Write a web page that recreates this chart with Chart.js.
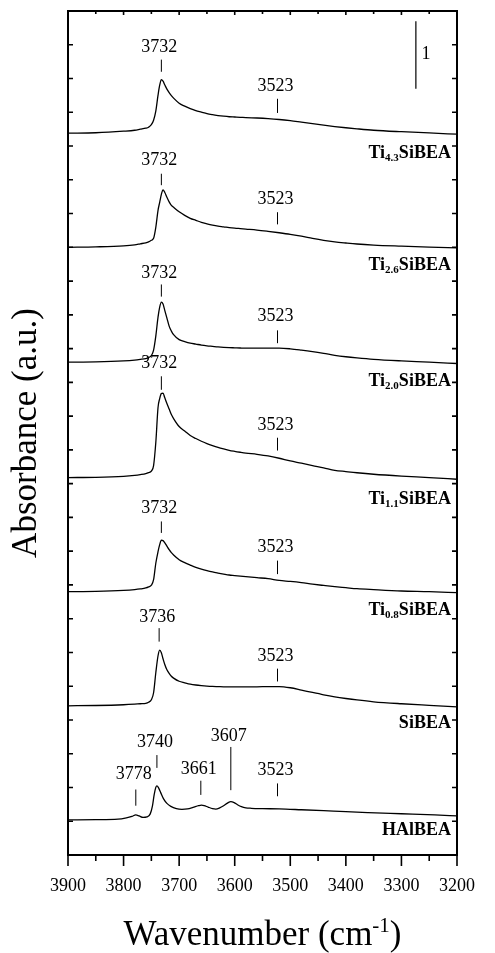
<!DOCTYPE html>
<html lang="en">
<head>
<meta charset="UTF-8">
<title>IR spectra</title>
<script src="https://cdn.jsdelivr.net/npm/chart.js"></script>
<style>
  html, body { margin: 0; padding: 0; background: #fff; }
</style>
</head>
<body>
<canvas id="myChart" width="495" height="953"></canvas>
<script>
// wavenumber grid (cm-1) shared by the Ti / Si samples
const wn = [3900, 3850, 3800, 3780, 3770, 3760, 3755, 3750, 3746, 3742,
            3738, 3735, 3732, 3729, 3726, 3722, 3718, 3714, 3710, 3700,
            3690, 3680, 3670, 3660, 3650, 3640, 3630, 3620, 3610, 3600,
            3590, 3580, 3560, 3540, 3520, 3500, 3480, 3460, 3440, 3420,
            3400, 3380, 3350, 3300, 3250, 3200];

// absorbance above each baseline
const ti43 = [0, 0.007, 0.030, 0.044, 0.059, 0.074, 0.089, 0.126, 0.193, 0.326,
              0.563, 0.711, 0.793, 0.770, 0.719, 0.652, 0.600, 0.556, 0.519, 0.444,
              0.400, 0.363, 0.333, 0.311, 0.289, 0.274, 0.262, 0.252, 0.244, 0.240,
              0.236, 0.231, 0.225, 0.216, 0.203, 0.185, 0.163, 0.141, 0.119, 0.099,
              0.081, 0.065, 0.044, 0.022, 0.004, -0.015];
const ti26 = [0, 0.007, 0.022, 0.037, 0.052, 0.067, 0.081, 0.104, 0.133, 0.296,
              0.548, 0.667, 0.785, 0.850, 0.815, 0.741, 0.674, 0.622, 0.593, 0.526,
              0.474, 0.430, 0.400, 0.370, 0.348, 0.329, 0.314, 0.304, 0.293, 0.284,
              0.277, 0.270, 0.256, 0.237, 0.216, 0.193, 0.166, 0.133, 0.104, 0.081,
              0.064, 0.049, 0.034, 0.018, 0.004, -0.009];
const ti20 = [0, 0.004, 0.018, 0.030, 0.040, 0.052, 0.067, 0.096, 0.178, 0.385,
              0.667, 0.815, 0.889, 0.859, 0.770, 0.652, 0.533, 0.459, 0.407, 0.333,
              0.304, 0.281, 0.267, 0.252, 0.241, 0.233, 0.225, 0.219, 0.215, 0.212,
              0.209, 0.207, 0.207, 0.207, 0.207, 0.197, 0.178, 0.156, 0.130, 0.101,
              0.079, 0.062, 0.041, 0.018, 0, -0.021];
const ti11 = [0, 0.004, 0.019, 0.033, 0.044, 0.059, 0.074, 0.096, 0.178, 0.519,
              1.037, 1.170, 1.244, 1.252, 1.185, 1.096, 1.015, 0.933, 0.874, 0.756,
              0.689, 0.622, 0.578, 0.538, 0.504, 0.474, 0.447, 0.424, 0.403, 0.388,
              0.375, 0.363, 0.344, 0.320, 0.286, 0.246, 0.213, 0.178, 0.145, 0.108,
              0.089, 0.071, 0.049, 0.022, 0, -0.025];
const ti08 = [0, 0.004, 0.018, 0.030, 0.040, 0.055, 0.071, 0.096, 0.178, 0.421,
              0.593, 0.696, 0.763, 0.756, 0.726, 0.674, 0.622, 0.578, 0.544, 0.474,
              0.430, 0.393, 0.359, 0.333, 0.311, 0.292, 0.276, 0.261, 0.247, 0.239,
              0.230, 0.222, 0.207, 0.193, 0.166, 0.151, 0.133, 0.111, 0.092, 0.074,
              0.059, 0.044, 0.030, 0.010, 0, -0.015];
const sibea = [0, 0.004, 0.015, 0.024, 0.030, 0.036, 0.052, 0.089, 0.193, 0.489,
               0.741, 0.825, 0.785, 0.696, 0.615, 0.533, 0.480, 0.437, 0.410, 0.363,
               0.341, 0.321, 0.308, 0.299, 0.292, 0.287, 0.284, 0.281, 0.281, 0.281,
               0.281, 0.281, 0.281, 0.284, 0.284, 0.267, 0.233, 0.197, 0.163, 0.133,
               0.108, 0.086, 0.059, 0.030, 0.007, -0.015];

// HAlBEA has its own grid (more bands)
const wnHAl = [3900, 3850, 3810, 3795, 3785, 3778, 3772, 3765, 3758, 3752,
               3748, 3745, 3742, 3740, 3737, 3733, 3728, 3722, 3715, 3705,
               3695, 3685, 3675, 3665, 3660, 3655, 3648, 3640, 3634, 3627,
               3620, 3613, 3607, 3601, 3595, 3588, 3580, 3570, 3550, 3520,
               3480, 3440, 3400, 3360, 3320, 3280, 3240, 3200];
const halbea = [0, 0.003, 0.010, 0.030, 0.052, 0.074, 0.059, 0.037, 0.044, 0.089,
                0.207, 0.370, 0.481, 0.504, 0.474, 0.400, 0.311, 0.244, 0.200, 0.167,
                0.157, 0.163, 0.185, 0.210, 0.218, 0.212, 0.190, 0.167, 0.160, 0.178,
                0.210, 0.249, 0.271, 0.256, 0.225, 0.196, 0.178, 0.172, 0.167, 0.163,
                0.150, 0.136, 0.121, 0.108, 0.096, 0.086, 0.074, 0.059];

// vertical offsets of the stacked spectra, top to bottom
const offsets = [10.69, 9.00, 7.30, 5.59, 3.90, 2.21, 0.52];
// sample names: [before subscript, subscript, after]
const sampleNames = [['Ti', '4.3', 'SiBEA'], ['Ti', '2.6', 'SiBEA'], ['Ti', '2.0', 'SiBEA'],
                     ['Ti', '1.1', 'SiBEA'], ['Ti', '0.8', 'SiBEA'], ['SiBEA', '', ''],
                     ['HAlBEA', '', '']];
const nameDrop = [0.28, 0.24, 0.26, 0.31, 0.25, 0.24, 0.14];

// band markers
const peakSample = [0, 0, 1, 1, 2, 2, 3, 3, 4, 4, 5, 5, 6, 6, 6, 6, 6];
const peakWn = [3732, 3523, 3732, 3523, 3732, 3523, 3732, 3523, 3732, 3523, 3736, 3523,
                3778, 3740, 3661, 3607, 3523];
const peakText = ['3732', '3523', '3732', '3523', '3732', '3523', '3732', '3523', '3732', '3523',
                  '3736', '3523', '3778', '3740', '3661', '3607', '3523'];
const peakLo = [0.91, 0.30, 0.92, 0.34, 0.97, 0.28, 1.30, 0.40, 0.87, 0.26, 0.95, 0.36,
                0.21, 0.77, 0.37, 0.44, 0.35];
const peakHi = [1.09, 0.51, 1.09, 0.52, 1.15, 0.47, 1.50, 0.59, 1.04, 0.46, 1.15, 0.55,
                0.45, 0.96, 0.58, 1.08, 0.54];
const peakLabelY = [1.28, 0.69, 1.29, 0.71, 1.32, 0.68, 1.69, 0.77, 1.23, 0.66, 1.31, 0.74,
                    0.68, 1.15, 0.75, 1.24, 0.73];

const serif = "'Liberation Serif', 'Times New Roman', serif";

const spectra = [ti43, ti26, ti20, ti11, ti08, sibea];
const datasets = spectra.map((s, i) => ({
    data: wn.map((w, j) => ({x: w, y: s[j] + offsets[i]})),
    borderColor: '#000',
    borderWidth: 1.3,
    pointRadius: 0,
    cubicInterpolationMode: 'monotone',
    fill: false
}));
datasets.push({
    data: wnHAl.map((w, j) => ({x: w, y: halbea[j] + offsets[6]})),
    borderColor: '#000',
    borderWidth: 1.3,
    pointRadius: 0,
    cubicInterpolationMode: 'monotone',
    fill: false
});

const decor = {
    id: 'decor',
    afterDraw(chart) {
        const {ctx, chartArea: a, scales: {x, y}} = chart;
        ctx.save();
        ctx.strokeStyle = '#000';
        ctx.fillStyle = '#000';

        // frame
        ctx.lineWidth = 2;
        ctx.strokeRect(a.left, a.top, a.right - a.left, a.bottom - a.top);

        // ticks
        ctx.lineWidth = 1.6;
        ctx.beginPath();
        for (let w = 3200; w <= 3900; w += 50) {
            const px = x.getPixelForValue(w);
            const major = w % 100 === 0;
            ctx.moveTo(px, a.bottom);
            ctx.lineTo(px, a.bottom + (major ? 11 : 6));
            ctx.moveTo(px, a.top);
            ctx.lineTo(px, a.top + (major ? 4 : 3));
        }
        for (let v = 0.5; v < 12.5; v += 0.5) {
            const py = y.getPixelForValue(v);
            ctx.moveTo(a.left, py);
            ctx.lineTo(a.left + 5, py);
            ctx.moveTo(a.right, py);
            ctx.lineTo(a.right - 5, py);
        }
        ctx.stroke();

        // band markers
        ctx.lineWidth = 1;
        ctx.font = '18px ' + serif;
        ctx.textAlign = 'center';
        ctx.textBaseline = 'middle';
        peakWn.forEach((w, i) => {
            const base = offsets[peakSample[i]];
            const px = x.getPixelForValue(w);
            ctx.beginPath();
            ctx.moveTo(px, y.getPixelForValue(base + peakLo[i]));
            ctx.lineTo(px, y.getPixelForValue(base + peakHi[i]));
            ctx.stroke();
            ctx.fillText(peakText[i], px - 2, y.getPixelForValue(base + peakLabelY[i]));
        });

        // sample names, right aligned
        const right = x.getPixelForValue(3211);
        ctx.textAlign = 'left';
        ctx.textBaseline = 'alphabetic';
        sampleNames.forEach((n, i) => {
            const py = y.getPixelForValue(offsets[i] - nameDrop[i]) + 6;
            ctx.font = 'bold 18px ' + serif;
            const w0 = ctx.measureText(n[0]).width;
            const w2 = ctx.measureText(n[2]).width;
            ctx.font = 'bold 11px ' + serif;
            const w1 = ctx.measureText(n[1]).width;
            let cx = right - w0 - w1 - w2;
            ctx.font = 'bold 18px ' + serif;
            ctx.fillText(n[0], cx, py);
            cx += w0;
            ctx.font = 'bold 11px ' + serif;
            ctx.fillText(n[1], cx, py + 3);
            cx += w1;
            ctx.font = 'bold 18px ' + serif;
            ctx.fillText(n[2], cx, py);
        });

        // scale bar: 1 absorbance unit
        const bx = x.getPixelForValue(3274);
        ctx.lineWidth = 1.2;
        ctx.beginPath();
        ctx.moveTo(bx, y.getPixelForValue(11.35));
        ctx.lineTo(bx, y.getPixelForValue(12.35));
        ctx.stroke();
        ctx.font = '18px ' + serif;
        ctx.textAlign = 'center';
        ctx.textBaseline = 'middle';
        ctx.fillText('1', x.getPixelForValue(3256), y.getPixelForValue(11.86));

        // x axis title with superscript
        const t1 = 'Wavenumber (cm', t2 = '-1', t3 = ')';
        ctx.textAlign = 'left';
        ctx.textBaseline = 'alphabetic';
        ctx.font = '35px ' + serif;
        const a1 = ctx.measureText(t1).width, a3 = ctx.measureText(t3).width;
        ctx.font = '21px ' + serif;
        const a2 = ctx.measureText(t2).width;
        let tx = (a.left + a.right) / 2 - (a1 + a2 + a3) / 2;
        const ty = 945;
        ctx.font = '35px ' + serif;
        ctx.fillText(t1, tx, ty);
        tx += a1;
        ctx.font = '21px ' + serif;
        ctx.fillText(t2, tx, ty - 13);
        tx += a2;
        ctx.font = '35px ' + serif;
        ctx.fillText(t3, tx, ty);
        ctx.restore();
    }
};

new Chart(document.getElementById('myChart').getContext('2d'), {
    type: 'line',
    data: {datasets: datasets},
    options: {
        responsive: false,
        animation: false,
        layout: {padding: {left: 0, top: 11, right: 27, bottom: 0}},
        plugins: {legend: {display: false}, tooltip: {enabled: false}},
        scales: {
            x: {
                type: 'linear',
                min: 3200,
                max: 3900,
                reverse: true,
                grid: {display: false, drawTicks: false},
                border: {display: false},
                ticks: {
                    stepSize: 100,
                    padding: 20,
                    color: '#000',
                    font: {family: serif, size: 18},
                    maxRotation: 0,
                    callback: v => String(v)
                },
                afterFit(scale) { scale.height = 98; }
            },
            y: {
                min: 0,
                max: 12.5,
                grid: {display: false, drawTicks: false},
                border: {display: false},
                ticks: {display: false},
                title: {
                    display: true,
                    text: 'Absorbance (a.u.)',
                    color: '#000',
                    font: {family: serif, size: 35},
                    padding: {top: 6, bottom: 0}
                },
                afterFit(scale) { scale.width = 68; }
            }
        }
    },
    plugins: [decor]
});
</script>
</body>
</html>
